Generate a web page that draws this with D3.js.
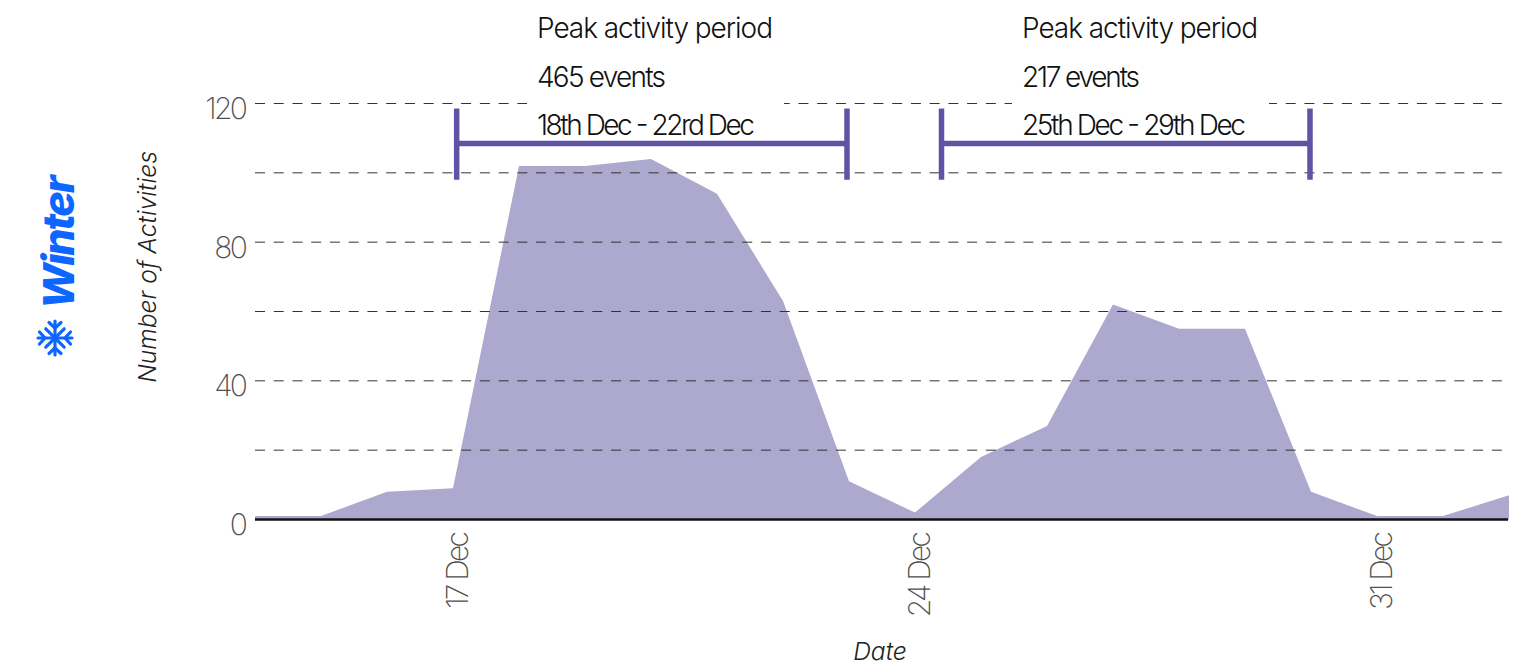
<!DOCTYPE html>
<html>
<head>
<meta charset="utf-8">
<script src="https://cdn.jsdelivr.net/npm/d3@7"></script>
<style>
  html, body { margin: 0; background: #fff; }
  svg { display: block; }
  text { font-family: Inter, "Noto Sans", sans-serif; }
  .tick-label { fill: #4f4f4f; font-weight: 200; font-size: 30px; letter-spacing: -2.8px; }
  .note { fill: #111; font-weight: 300; font-size: 28px; }
  .axis-title { fill: #222; font-weight: 300; font-style: italic; font-size: 24.6px; }
</style>
</head>
<body>
<div id="chart"></div>
<script>
// One value per day, 14 Dec through 2 Jan.
const days = ["2023-12-14","2023-12-15","2023-12-16","2023-12-17","2023-12-18","2023-12-19","2023-12-20",
  "2023-12-21","2023-12-22","2023-12-23","2023-12-24","2023-12-25","2023-12-26","2023-12-27","2023-12-28",
  "2023-12-29","2023-12-30","2023-12-31","2024-01-01","2024-01-02"];
const activities = [1, 1, 8, 9, 102, 102, 104, 94, 63, 11, 2, 18, 27, 62, 55, 55, 8, 1, 1, 7];

const gridValues = [20, 40, 60, 80, 100, 120];
const yTickValues = [0, 40, 80, 120];
const xTickDays = ["2023-12-17", "2023-12-24", "2023-12-31"];

const periodStarts = ["2023-12-17T01:20", "2023-12-24T09:38"];
const periodEnds = ["2023-12-22T23:16", "2023-12-29T23:38"];
const periodNotes = [
  ["Peak activity period", "465 events", "18th Dec - 22rd Dec"],
  ["Peak activity period", "217 events", "25th Dec - 29th Dec"]
];
const bracketTop = 118.55, bracketMid = 108.46, bracketBottom = 98;

const width = 1531, height = 672;
// The reference face is narrower than Inter, so each note line is fitted to its length.
const noteWidths = [[236, 129, 218], [236, 118, 224]];
const noteLeft = [537, 1022];
const parse = (s) => new Date(s + (s.length === 10 ? "T00:00" : ""));

const x = d3.scaleTime([parse(days[0]), parse(days[days.length - 1])], [255, 1509]);
const y = d3.scaleLinear([0, 120], [519.5, 103.5]);

const svg = d3.select("#chart").append("svg")
  .attr("width", width).attr("height", height)
  .attr("viewBox", `0 0 ${width} ${height}`);

const area = d3.area()
  .x((d, i) => x(parse(days[i])))
  .y0(y(0))
  .y1((d) => y(d));
svg.append("path").datum(activities).attr("d", area).attr("fill", "#ada8ce");

// Dashed grid sits over the fill.
svg.append("g").selectAll("line").data(gridValues).join("line")
  .attr("x1", 255).attr("x2", 1509)
  .attr("y1", (d) => y(d)).attr("y2", (d) => y(d))
  .attr("stroke", "#333").attr("stroke-width", 1)
  .attr("stroke-dasharray", "10 8.74");

// White boxes behind the notes cut the top gridline.
svg.append("g").selectAll("rect").data(noteLeft).join("rect")
  .attr("x", (d) => d - 10).attr("y", 0).attr("width", 257).attr("height", 138)
  .attr("fill", "#fff");

svg.append("line")
  .attr("x1", 255).attr("x2", 1508).attr("y1", y(0)).attr("y2", y(0))
  .attr("stroke", "#111").attr("stroke-width", 2.5);

svg.append("g").selectAll("text").data(yTickValues).join("text")
  .attr("class", "tick-label").attr("text-anchor", "end")
  .attr("x", 245).attr("y", (d) => y(d) + 15.5)
  .text((d) => d);

svg.append("g").selectAll("text").data(xTickDays).join("text")
  .attr("class", "tick-label").attr("text-anchor", "end")
  .attr("transform", (d) => `translate(${x(parse(d)) + 15},534) rotate(-90)`)
  .text((d) => `${parse(d).getDate()} Dec`);

periodStarts.forEach((start, i) => {
  const x0 = x(parse(start)), x1 = x(parse(periodEnds[i]));
  const g = svg.append("g").attr("stroke", "#5f53a3").attr("stroke-width", 5.5);
  g.append("line").attr("x1", x0).attr("x2", x1).attr("y1", y(bracketMid)).attr("y2", y(bracketMid));
  [x0, x1].forEach((cx) => {
    g.append("line").attr("x1", cx).attr("x2", cx).attr("y1", y(bracketTop)).attr("y2", y(bracketBottom));
  });
  svg.append("g").selectAll("text").data(periodNotes[i]).join("text")
    .attr("class", "note")
    .attr("x", noteLeft[i]).attr("y", (d, j) => 38 + j * 48.5)
    .attr("textLength", (d, j) => noteWidths[i][j])
    .attr("lengthAdjust", "spacing")
    .text((d) => d);
});

svg.append("text").attr("class", "axis-title").attr("text-anchor", "middle")
  .attr("x", 880).attr("y", 660).text("Date");
svg.append("text").attr("class", "axis-title").attr("text-anchor", "middle")
  .attr("transform", "translate(156,267) rotate(-90)").text("Number of Activities");

// Season label, rotated, with a drawn snowflake under it.
svg.append("text")
  .attr("transform", "translate(73.5,309) rotate(-90)")
  .attr("fill", "#0d66ff").attr("font-size", 43).attr("font-weight", 800)
  .attr("font-style", "italic").attr("letter-spacing", -2.2)
  .text("Winter");

const flake = svg.append("g").attr("transform", "translate(55,338)")
  .attr("stroke", "#0d66ff").attr("stroke-width", 3.2).attr("stroke-linecap", "round")
  .attr("stroke-linejoin", "round").attr("fill", "none");
[0, 90].forEach((a) => {
  flake.append("line").attr("x1", -17).attr("x2", 17).attr("transform", `rotate(${a})`);
});
[45, 135].forEach((a) => {
  flake.append("line").attr("x1", -13).attr("x2", 13).attr("transform", `rotate(${a})`);
});
d3.range(0, 360, 90).forEach((a) => {
  flake.append("path").attr("d", "M-6,-15.5 L0,-10 L6,-15.5").attr("transform", `rotate(${a})`);
});
</script>
</body>
</html>
